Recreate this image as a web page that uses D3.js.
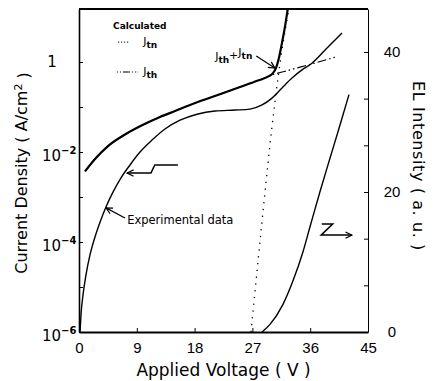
<!DOCTYPE html>
<html>
<head>
<meta charset="utf-8">
<script src="https://cdn.jsdelivr.net/npm/d3@7"></script>
<style>
body{margin:0;background:#fff;}
svg{display:block;font-family:"DejaVu Sans",sans-serif;}
.axis path,.axis line{stroke:#000;}
.axis text{font-size:15px;fill:#000;}
.curve{fill:none;stroke:#000;}
</style>
</head>
<body>
<svg id="chart" width="434" height="381"></svg>
<script>
// values: voltage (V), log10 of current density (A/cm^2), EL (a.u.)
var exp_v    = [0.16,0.31,0.62,1.09,1.71,2.49,3.27,4.20,5.29,6.54,7.94,9.50,11.37,13.39,15.73,18.37,21.18,24.29,26.63,28.50,30.05,31.61,33.17,34.72,36.13,38.62,40.95];
var exp_logj = [-6,-5.621,-5.180,-4.729,-4.288,-3.888,-3.560,-3.221,-2.893,-2.575,-2.288,-2.001,-1.735,-1.489,-1.294,-1.160,-1.089,-1.068,-1.048,-0.955,-0.802,-0.576,-0.356,-0.176,-0.043,0.311,0.644];

var jth_v    = [0.93,2.49,4.52,7.16,9.81,12.61,14.95,17.28,19.62,22.27,25.07,27.87,30.05,32.86,35.97,39.97];
var jth_logj = [-2.432,-2.155,-1.868,-1.612,-1.407,-1.222,-1.089,-0.955,-0.832,-0.699,-0.556,-0.412,-0.289,-0.176,-0.053,0.111];

var jtn_v    = [26.78,27.6,28.5,29.4,30.05,30.6,31.1,31.7,32.2,32.7];
var jtn_logj = [-6,-4.821,-3.539,-2.288,-1.437,-0.791,-0.238,0.357,0.788,1.177];

var sum_v    = [0.93,2.49,4.52,7.16,9.81,12.61,14.95,17.28,19.62,22.27,25.07,27.87,29.5,30.2,30.7,31.1,31.6,32.1,32.5];
var sum_logj = [-2.432,-2.155,-1.868,-1.612,-1.407,-1.222,-1.089,-0.955,-0.832,-0.699,-0.556,-0.412,-0.320,-0.248,-0.125,0.070,0.419,0.808,1.177];

var el_v   = [28.5,29.74,31.76,33.32,34.88,35.97,37.53,39.08,40.64,42.04];
var el_val = [0,1.09,3.95,7.32,11.47,15.03,20.07,24.81,29.56,33.91];

var x_ticks  = [0,9,18,27,36,45];
var j_ticks  = [-6,-5,-4,-3,-2,-1,0];
var j_labels = [-6,-4,-2,0];
var el_labels = [0,20,40];

var width = 434, height = 381;
var margin = {top: 9, right: 66, bottom: 49, left: 79};

var svg = d3.select('#chart');

var x = d3.scaleLinear().domain([0,45]).range([margin.left, width-margin.right]);
var y = d3.scaleLog().domain([1e-6, Math.pow(10,1.178)]).range([height-margin.bottom, margin.top]);
var y_el = d3.scaleLinear().domain([0,46.14]).range([height-margin.bottom, margin.top]);

function pj(v, lj){ return [x(v), y(Math.pow(10,lj))]; }
function pel(v, e){ return [x(v), y_el(e)]; }

var defs = svg.append('defs');
defs.append('clipPath').attr('id','clip')
	.append('rect')
	.attr('x',margin.left).attr('y',margin.top)
	.attr('width',width-margin.left-margin.right)
	.attr('height',height-margin.top-margin.bottom);
defs.append('marker')
	.attr('id','arr').attr('viewBox','0 0 10 10')
	.attr('refX',9).attr('refY',5)
	.attr('markerWidth',8).attr('markerHeight',8)
	.attr('markerUnits','userSpaceOnUse')
	.attr('orient','auto')
	.append('path')
	.attr('d','M1,1 L9,5 L1,9')
	.attr('fill','none').attr('stroke','#000').attr('stroke-width',1.5);

// axes, ticks point inward
var xaxis = d3.axisBottom(x).tickValues(x_ticks).tickSizeInner(-4).tickSizeOuter(0).tickPadding(10);
svg.append('g').attr('class','axis axis-x')
	.attr('transform','translate(0,'+(height-margin.bottom)+')')
	.call(xaxis)
	.select('.domain').attr('stroke-width',1.8);

var yaxis = d3.axisLeft(y).tickValues(j_ticks.map(function(d){ return Math.pow(10,d); }))
	.tickSizeInner(-4).tickSizeOuter(0).tickFormat('');
svg.append('g').attr('class','axis axis-y')
	.attr('transform','translate('+margin.left+',0)')
	.call(yaxis)
	.select('.domain').attr('stroke-width',1.6);

var ylab = svg.append('g').attr('class','axis-labels-y');
j_labels.forEach(function(p){
	var t = ylab.append('text')
		.attr('y', y(Math.pow(10,p)))
		.attr('dy','0.36em')
		.attr('font-size',15);
	if (p === 0){
		t.attr('x',52).attr('text-anchor','middle').text('1');
	} else {
		t.attr('x',42).attr('dy','0.6em').text('10');
		t.append('tspan').attr('dy','-0.75em').attr('font-size',10).attr('font-weight','bold').text('\u2212'+(-p));
	}
});

var elaxis = d3.axisRight(y_el).tickValues(d3.range(0,41,20/3))
	.tickSizeInner(-4).tickSizeOuter(0)
	.tickFormat(function(d){ return el_labels.indexOf(Math.round(d))>=0 && Math.abs(d-Math.round(d))<1e-6 ? d3.format('d')(d) : ''; });
var elg = svg.append('g').attr('class','axis axis-el')
	.attr('transform','translate('+(width-margin.right)+',0)')
	.call(elaxis);
elg.selectAll('.tick text').attr('text-anchor','middle').attr('x',24);

svg.append('line')
	.attr('x1',margin.left).attr('x2',width-margin.right)
	.attr('y1',margin.top).attr('y2',margin.top)
	.attr('stroke','#000').attr('stroke-width',2.2);

// curves
var line = d3.line().curve(d3.curveMonotoneX);
var plot = svg.append('g').attr('clip-path','url(#clip)');

function zip(a, b, f){ return a.map(function(v,i){ return f(v,b[i]); }); }

plot.append('path').attr('class','curve')
	.attr('d', line(zip(jtn_v, jtn_logj, pj)))
	.attr('stroke-width',1.3).attr('stroke-dasharray','1.3,5.5');
plot.append('path').attr('class','curve')
	.attr('d', line(zip(jth_v, jth_logj, pj)))
	.attr('stroke-width',1.2).attr('stroke-dasharray','1.5,3,1.5,3,9,3');
plot.append('path').attr('class','curve')
	.attr('d', line(zip(sum_v, sum_logj, pj)))
	.attr('stroke-width',2.2);
plot.append('path').attr('class','curve')
	.attr('d', line(zip(exp_v, exp_logj, pj)))
	.attr('stroke-width',1.4);
plot.append('path').attr('class','curve')
	.attr('d', line(zip(el_v, el_val, pel)))
	.attr('stroke-width',1.4);

// legend
var lg = svg.append('g').attr('class','legend');
var p = pj(5.3,0.736);
lg.append('text').attr('x',p[0]).attr('y',p[1])
	.attr('font-size',9).attr('font-weight','bold').text('Calculated');
lg.append('path').attr('class','curve')
	.attr('d', line([pj(6.1,0.444), pj(7.9,0.444)]))
	.attr('stroke-width',1.2).attr('stroke-dasharray','1,2');
lg.append('path').attr('class','curve')
	.attr('d', line([pj(5.9,-0.222), pj(9.1,-0.222)]))
	.attr('stroke-width',1.2).attr('stroke-dasharray','1,2,1,2,7,2,1,2,1');

function jlabel(g, pos, parts){
	var t = g.append('text').attr('x',pos[0]).attr('y',pos[1]).attr('font-size',11);
	parts.forEach(function(s, i){
		var sp = t.append('tspan').text(s[0]);
		if (s[1]) sp.attr('font-size',9).attr('font-weight','bold').attr('dy', i ? '0.3em' : null);
		else if (i) sp.attr('dy','-0.3em');
	});
	return t;
}
jlabel(lg, pj(10.0,0.378), [['J',0],['tn',1]]);
jlabel(lg, pj(10.0,-0.289), [['J',0],['th',1]]);

// annotations
var ann = svg.append('g').attr('class','annotations');
jlabel(ann, pj(21.2,0.044), [['J',0],['th',1],['+',0],['J',0],['tn',1]]);
ann.append('path').attr('class','curve').attr('stroke-width',1.2)
	.attr('d', d3.line()([pj(27.6,0.131), pj(30.5,-0.135)]))
	.attr('marker-end','url(#arr)');

ann.append('text').attr('font-size',11.5)
	.attr('x', pj(7.5,-3.601)[0]).attr('y', pj(7.5,-3.601)[1])
	.text('Experimental data');
ann.append('path').attr('class','curve').attr('stroke-width',1.2)
	.attr('d', d3.line()([pj(7.16,-3.467), pj(4.2,-3.242)]))
	.attr('marker-end','url(#arr)');

ann.append('path').attr('class','curve').attr('stroke-width',1.5)
	.attr('d', d3.line()([pj(15.4,-2.288), pj(11.8,-2.288), pj(11.2,-2.468), pj(7.5,-2.468)]))
	.attr('marker-end','url(#arr)');

ann.append('path').attr('class','curve').attr('stroke-width',1.5)
	.attr('d', d3.line()([pel(37.8,15.42), pel(39.5,15.42), pel(37.7,13.84), pel(42.5,13.84)]))
	.attr('marker-end','url(#arr)');

// axis titles
svg.append('text')
	.attr('x', (margin.left+width-margin.right)/2).attr('y',376)
	.attr('text-anchor','middle').attr('font-size',17)
	.text('Applied Voltage ( V )');

var yt = svg.append('text')
	.attr('transform','translate(27,173) rotate(-90)')
	.attr('text-anchor','middle').attr('font-size',16);
yt.append('tspan').text('Current Density ( A/cm');
yt.append('tspan').attr('dy','-0.45em').attr('font-size',11).text('2');
yt.append('tspan').attr('dy','0.45em').text(' )');

svg.append('text')
	.attr('transform','translate(413,166) rotate(90)')
	.attr('text-anchor','middle').attr('font-size',16).attr('letter-spacing',0.6)
	.text('EL Intensity ( a. u. )');
</script>
</body>
</html>
